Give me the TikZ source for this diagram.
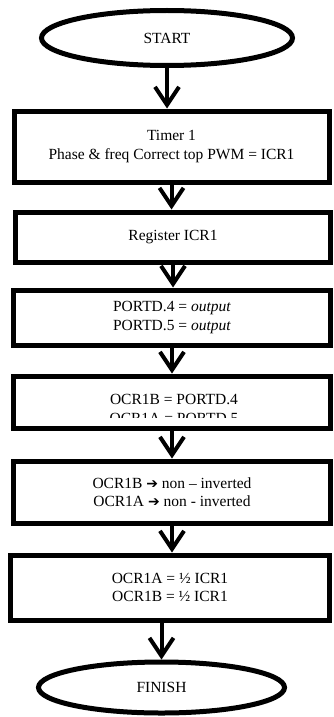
\documentclass[tikz,border=0pt]{standalone}
\usepackage{fontspec}
\setmainfont{Liberation Serif}
\newfontfamily\arrowfont{DejaVu Sans Bold}
\usetikzlibrary{positioning,shapes,arrows.meta}

\tikzset{
  procbox/.style={draw, line width=5pt, rectangle, align=center, inner sep=0pt},
  terminal/.style={draw, line width=5pt, ellipse, inner sep=0pt},
  flowarrow/.style={line width=4pt, -{Straight Barb[length=18pt,width=24pt]}}
}

\begin{document}
\begin{tikzpicture}[x=1pt,y=-1pt,font=\fontsize{15.5}{18.5}\selectfont]
    \newcommand{\heavyto}{{\arrowfont\fontsize{14}{14}\selectfont ➔}}
    \useasboundingbox (0,0) rectangle (333,717);
    \node[terminal,minimum width=251pt,minimum height=55pt] (start) at (167,38) {START};
    \node[procbox,minimum width=315pt,minimum height=71pt] (timer) at (171.5,146.5)
      {Timer 1\\Phase \& freq Correct top PWM = ICR1};
    \node[procbox,minimum width=315pt,minimum height=50pt] (reg) at (173,237) {Register ICR1};
    \node[procbox,minimum width=317pt,minimum height=55pt] (port) at (172,317.5)
      {PORTD.4 = \textit{output}\\PORTD.5 = \textit{output}};
    \node[procbox,minimum width=317pt,minimum height=52pt] (ocrport) at (172,402) {};
    \begin{scope}
      \clip (20,380) rectangle (320,417);
      \node[align=center] (ocrporttxt) at (174,409) {OCR1B = PORTD.4\\OCR1A = PORTD.5};
    \end{scope}
    \node[procbox,minimum width=317pt,minimum height=62pt] (mode) at (172,492)
      {OCR1B \heavyto{} non -- inverted\\OCR1A \heavyto{} non - inverted};
    \node[procbox,minimum width=319pt,minimum height=65pt] (duty) at (170,587.5)
      {OCR1A = ½ ICR1\\OCR1B = ½ ICR1};
    \node[terminal,minimum width=246pt,minimum height=51pt] (finish) at (161.5,687.5) {FINISH};
    \draw[flowarrow] (start.south) -- (start.south |- timer.north);
    \foreach \a/\b in {timer/reg,reg/port,port/ocrport,ocrport/mode,mode/duty}
      \draw[flowarrow] (\a.south) -- (\a.south |- \b.north);
    \draw[flowarrow] (finish.north |- duty.south) -- (finish.north);
\end{tikzpicture}
\end{document}
